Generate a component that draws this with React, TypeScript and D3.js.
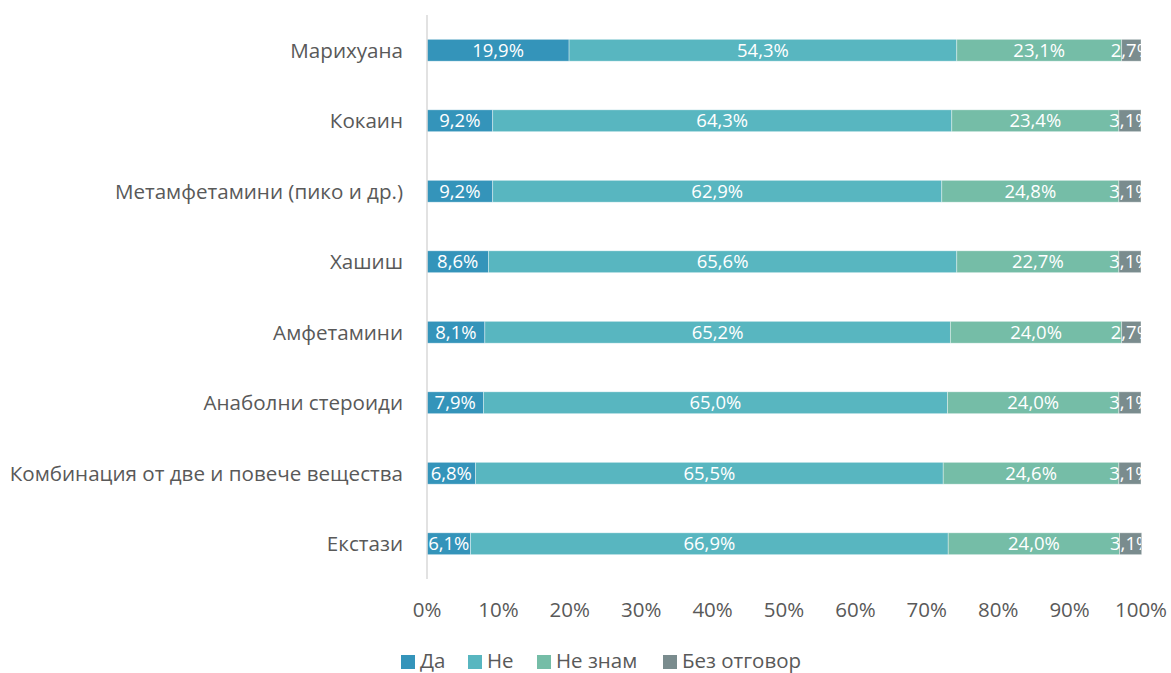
import * as React from 'react';
import * as d3 from 'd3';

const categories = [
  'Марихуана',
  'Кокаин',
  'Метамфетамини (пико и др.)',
  'Хашиш',
  'Амфетамини',
  'Анаболни стероиди',
  'Комбинация от две и повече вещества',
  'Екстази',
];

const seriesNames = ['Да', 'Не', 'Не знам', 'Без отговор'];
const seriesColors = ['#3494BA', '#58B6C0', '#75BDA7', '#7A8C8E'];

const yes = [19.9, 9.2, 9.2, 8.6, 8.1, 7.9, 6.8, 6.1];
const no = [54.3, 64.3, 62.9, 65.6, 65.2, 65.0, 65.5, 66.9];
const dontKnow = [23.1, 23.4, 24.8, 22.7, 24.0, 24.0, 24.6, 24.0];
const noAnswer = [2.7, 3.1, 3.1, 3.1, 2.7, 3.1, 3.1, 3.1];

const xTicks = [0, 10, 20, 30, 40, 50, 60, 70, 80, 90, 100];

const FONT = '"Open Sans", "Noto Sans", sans-serif';

export default function App() {
  const width = 1171;
  const height = 673;
  const margin = { top: 15, right: 30, bottom: 94, left: 427 };

  const x = d3.scaleLinear().domain([0, 100]).range([margin.left, width - margin.right]);
  const y = d3
    .scaleBand<string>()
    .domain(categories)
    .range([margin.top, height - margin.bottom])
    .paddingInner(0.69)
    .paddingOuter(0.345);

  const rows = categories.map((cat, i) => ({
    cat,
    yes: yes[i],
    no: no[i],
    dontKnow: dontKnow[i],
    noAnswer: noAnswer[i],
  }));
  const keys = ['yes', 'no', 'dontKnow', 'noAnswer'];
  const stacked = d3.stack<any>().keys(keys)(rows);

  const fmt = (v: number) => v.toFixed(1).replace('.', ',') + '%';

  // legend layout
  const legendX = [401, 468, 537, 663];
  const legendY = 661;

  return (
    <svg width={width} height={height} style={{ position: 'absolute', left: 0, top: 0, fontFamily: FONT }}>
      <defs>
        <clipPath id="plot">
          <rect x={x(0)} y={0} width={x(100) - x(0)} height={height} />
        </clipPath>
      </defs>
      <rect width={width} height={height} fill="#fff" />
      {/* bars */}
      <g>
        {stacked.map((s, si) => (
          <g key={s.key} fill={seriesColors[si]}>
            {s.map((d, i) => (
              <rect
                key={i}
                x={x(d[0])}
                y={y(categories[i])}
                width={x(d[1]) - x(d[0])}
                height={y.bandwidth()}
                stroke="#ffffff"
                strokeOpacity={0.5}
                strokeWidth={0.75}
              />
            ))}
          </g>
        ))}
      </g>
      {/* data labels */}
      <g clipPath="url(#plot)">
        {stacked.map((s) =>
          s.map((d, i) => (
            <text
              key={s.key + i}
              x={(x(d[0]) + x(d[1])) / 2}
              y={(y(categories[i]) ?? 0) + y.bandwidth() / 2}
              dy="0.36em"
              textAnchor="middle"
              fill="#ffffff"
              fontSize={18.5}
            >
              {fmt(d[1] - d[0])}
            </text>
          ))
        )}
      </g>
      {/* vertical axis line */}
      <line x1={x(0)} x2={x(0)} y1={margin.top} y2={height - margin.bottom} stroke="#d9d9d9" strokeWidth={1.5} />
      {/* category labels */}
      {categories.map((c) => (
        <text
          key={c}
          x={x(0) - 24}
          y={(y(c) ?? 0) + y.bandwidth() / 2}
          dy="0.36em"
          textAnchor="end"
          fill="#595959"
          fontSize={20.6}
        >
          {c}
        </text>
      ))}
      {/* x tick labels */}
      {xTicks.map((t) => (
        <text key={t} x={x(t)} y={610} dy="0.36em" textAnchor="middle" fill="#595959" fontSize={20.5}>
          {t + '%'}
        </text>
      ))}
      {/* legend */}
      {seriesNames.map((n, i) => (
        <g key={n}>
          <rect x={legendX[i]} y={legendY - 6} width={14} height={14} fill={seriesColors[i]} />
          <text x={legendX[i] + 19} y={legendY} dy="0.36em" fill="#595959" fontSize={20.5}>
            {n}
          </text>
        </g>
      ))}
    </svg>
  );
}
